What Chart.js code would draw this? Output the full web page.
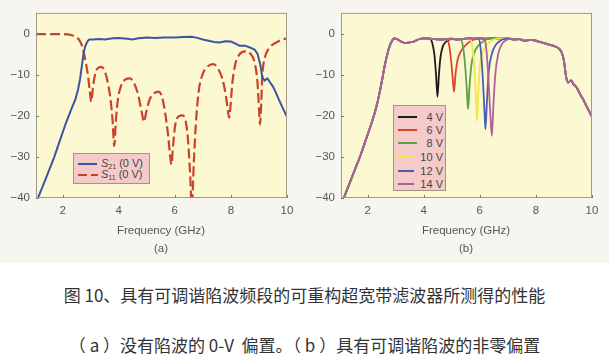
<!DOCTYPE html>
<html><head><meta charset="utf-8">
<script src="https://cdn.jsdelivr.net/npm/chart.js@4/dist/chart.umd.min.js"></script>
<style>
html,body{margin:0;padding:0;background:#fff;width:609px;height:358px;overflow:hidden;}
#fig{position:absolute;left:0;top:0;width:609px;height:263px;background:#f7f5ef;}
canvas{position:absolute;top:0;}
#ca{left:0;}
#cb{left:300px;}
.xt{position:absolute;font:11.5px "Liberation Sans",Arial,sans-serif;color:#555;text-align:center;width:200px;line-height:14px;}
.leg{position:absolute;background:#f5cbc9;border:1px solid #a39488;box-sizing:border-box;}
.row{position:absolute;font:11px "Liberation Sans",Arial,sans-serif;color:#444;line-height:12px;white-space:nowrap;}
.row sub{font-size:7px;vertical-align:-2px;}
.cap{position:absolute;left:0;width:609px;text-align:center;font:17px "Noto Sans CJK SC",sans-serif;color:#333;line-height:20px;}
svg{position:absolute;overflow:visible;}
</style>
</head><body>
<div id="fig"></div>
<canvas id="ca" width="300" height="263"></canvas>
<canvas id="cb" width="309" height="263"></canvas>

<div class="xt" style="left:61px;top:223px;">Frequency (GHz)</div>
<div class="xt" style="left:61px;top:241px;">(a)</div>
<div class="xt" style="left:366px;top:223px;">Frequency (GHz)</div>
<div class="xt" style="left:366px;top:241px;">(b)</div>

<div class="leg" style="left:73px;top:153px;width:77px;height:31px;"></div>
<svg style="left:0;top:0;width:1px;height:1px;">
  <line x1="78" y1="164" x2="97" y2="164" stroke="#3b55a2" stroke-width="2"/>
  <line x1="78" y1="175" x2="98" y2="175" stroke="#c9432c" stroke-width="2" stroke-dasharray="9 4"/>
</svg>
<div class="row" style="left:101px;top:157px;"><i>S</i><sub>21</sub> (0 V)</div>
<div class="row" style="left:101px;top:168px;"><i>S</i><sub>11</sub> (0 V)</div>

<div class="leg" style="left:393px;top:105px;width:53px;height:86px;"></div>
<svg id="legb" style="left:0;top:0;width:1px;height:1px;"></svg>
<div id="legbt"></div>

<div class="cap" style="top:285px;">图 10、具有可调谐陷波频段的可重构超宽带滤波器所测得的性能</div>
<div class="cap" style="top:335px;">（ a ）没有陷波的 0-V&nbsp; 偏置。（ b ）具有可调谐陷波的非零偏置</div>

<script>
// ---- shared axis data ----
const X_TICKS = [2, 4, 6, 8, 10];
const Y_TICKS = [-40, -30, -20, -10, 0];

// ---- panel (a) ----
const S21_FREQ = [1.12,1.3,1.5,1.7,1.9,2.1,2.3,2.45,2.55,2.62,2.68,2.74,2.8,2.88,2.95,3.1,3.3,3.5,3.8,4.0,4.3,4.5,4.7,5.0,5.3,5.6,6.0,6.3,6.6,6.8,7.0,7.2,7.4,7.6,7.8,8.0,8.2,8.3,8.5,8.7,8.85,8.95,9.05,9.12,9.2,9.3,9.4,9.5,9.6,9.7,9.8,9.9,10];
const S21_DB   = [-40,-37,-33.5,-30,-26,-22,-18.5,-16,-13.5,-11,-8,-5,-3,-1.8,-1.3,-1.3,-1.2,-1.3,-1.0,-0.9,-1.1,-1.3,-1.0,-0.8,-0.9,-0.8,-0.8,-0.7,-0.6,-0.9,-1.3,-1.6,-1.9,-2.0,-1.7,-1.8,-2.4,-2.8,-2.8,-3.3,-3.8,-4.8,-7.5,-10.5,-11.3,-10.8,-11.8,-12.8,-14.2,-15.8,-17.3,-18.8,-20.2];

const S11_FREQ = [1.05,1.5,2.0,2.3,2.5,2.6,2.7,2.8,2.9,2.97,3.02,3.08,3.15,3.25,3.38,3.5,3.6,3.7,3.78,3.84,3.9,3.98,4.1,4.25,4.4,4.55,4.7,4.82,4.9,4.98,5.1,5.25,5.42,5.55,5.65,5.75,5.83,5.88,5.94,6.02,6.15,6.27,6.38,6.46,6.52,6.57,6.6,6.64,6.68,6.75,6.85,6.98,7.15,7.37,7.55,7.7,7.82,7.9,7.94,7.98,8.05,8.15,8.3,8.5,8.7,8.85,8.95,9.0,9.04,9.08,9.12,9.2,9.35,9.5,9.7,9.85,10];
const S11_DB   = [0,0,0,-0.2,-0.8,-1.5,-3,-6,-10,-14,-16.5,-13,-10,-8.3,-8.0,-9,-11.5,-15.5,-21,-27.3,-21,-15.5,-12.3,-11,-10.8,-12,-15,-19,-21.4,-19,-16,-14.5,-14,-15.5,-19,-24,-29.5,-31.8,-27,-22,-20,-19.8,-21,-25,-31,-38,-45,-38,-31,-22,-14,-10,-8,-7.3,-8.5,-11,-15,-19,-20.4,-18,-12,-7.5,-5,-4.2,-4.8,-7,-12,-18,-22,-17,-10,-6,-3.5,-2.5,-1.7,-1.3,-1.0];

// ---- panel (b) ----
const BASE_FREQ = [1.15,1.35,1.55,1.75,1.95,2.15,2.3,2.42,2.52,2.6,2.68,2.78,2.88,2.95,3.05,3.2,3.35,3.5,3.65,3.8,4.0,4.2,4.4,4.6,4.8,5.0,5.2,5.4,5.6,5.8,6.0,6.2,6.4,6.6,6.8,7.0,7.2,7.4,7.6,7.8,8.0,8.2,8.4,8.6,8.8,8.92,9.0,9.08,9.15,9.25,9.35,9.45,9.55,9.65,9.75,9.85,9.95,10];
const BASE_DB   = [-40,-36.5,-33,-29.5,-25.5,-21.5,-18,-14.5,-11,-8,-5.5,-3,-1.5,-1.0,-1.2,-1.8,-2.2,-2.0,-1.8,-1.3,-1.0,-1.1,-1.2,-1.3,-1.2,-1.1,-1.3,-1.2,-1.0,-1.1,-1.0,-1.1,-1.0,-1.0,-1.0,-1.0,-1.3,-1.2,-1.6,-1.4,-1.6,-2.0,-2.4,-2.8,-3.4,-4.5,-6.5,-10.5,-11.8,-11.3,-12.3,-13.0,-14.3,-15.5,-16.8,-18.2,-19.5,-20.2];

const VOLTAGES = ['4 V','6 V','8 V','10 V','12 V','14 V'];
const NOTCH_4V_FREQ  = [4.2,4.3,4.38,4.44,4.49,4.54,4.6,4.68,4.8,5.0];
const NOTCH_4V_DB    = [-1.0,-2,-5,-10,-15.3,-10,-5.5,-3,-1.8,-1.2];
const NOTCH_6V_FREQ  = [4.8,4.9,4.97,5.03,5.08,5.13,5.2,5.3,5.45,5.65,5.9];
const NOTCH_6V_DB    = [-1.2,-2.5,-6,-10.5,-14.1,-10,-6.5,-4.5,-3,-1.8,-1.1];
const NOTCH_8V_FREQ  = [5.3,5.4,5.48,5.54,5.58,5.63,5.7,5.8,5.95,6.15,6.4];
const NOTCH_8V_DB    = [-1.2,-3,-8,-14,-18.3,-13,-7.5,-4.5,-2.8,-1.6,-1.0];
const NOTCH_10V_FREQ = [5.65,5.75,5.82,5.87,5.9,5.94,6.0,6.1,6.25,6.5,6.7];
const NOTCH_10V_DB   = [-1.1,-4,-10,-17,-21.2,-15,-8,-4.5,-2.5,-1.3,-1.0];
const NOTCH_12V_FREQ = [5.95,6.03,6.1,6.16,6.2,6.25,6.32,6.42,6.55,6.75,7.0];
const NOTCH_12V_DB   = [-1.1,-3.5,-10,-18,-23.2,-17,-9,-5,-2.8,-1.5,-1.0];
const NOTCH_14V_FREQ = [6.15,6.23,6.3,6.37,6.43,6.48,6.55,6.65,6.78,6.95,7.15];
const NOTCH_14V_DB   = [-1.1,-3.5,-10,-19,-24.8,-18,-10,-5,-2.5,-1.4,-1.1];

const COLORS_B = ['#1c1c1c','#e0432c','#5f9f45','#f2e64a','#4c5db6','#ad6199'];
const COLOR_S21 = '#3b55a2', COLOR_S11 = '#c9432c';

function pts(fx, dy){ return fx.map((f,i)=>({x:f,y:dy[i]})); }
function withNotch(nf, nd){
  const lo = nf[0], hi = nf[nf.length-1];
  const p = [];
  BASE_FREQ.forEach((f,i)=>{ if(f<lo||f>hi) p.push({x:f,y:BASE_DB[i]}); });
  nf.forEach((f,i)=>p.push({x:f,y:nd[i]}));
  p.sort((a,b)=>a.x-b.x);
  return p;
}

const framePlugin = {
  id:'frame',
  beforeDatasetsDraw(chart){
    const {ctx, chartArea:a} = chart;
    ctx.save();
    ctx.fillStyle = '#fcf8d2';
    ctx.fillRect(a.left, a.top, a.right-a.left, a.bottom-a.top);
    ctx.restore();
  },
  afterDatasetsDraw(chart){
    const {ctx, chartArea:a, scales} = chart;
    ctx.save();
    ctx.strokeStyle = '#a09a88';
    ctx.lineWidth = 1;
    ctx.strokeRect(a.left+0.5, a.top+0.5, a.right-a.left-1, a.bottom-a.top-1);
    ctx.strokeStyle = '#777';
    X_TICKS.forEach(v=>{ const x=Math.round(scales.x.getPixelForValue(v))+0.5; ctx.beginPath(); ctx.moveTo(x,a.bottom); ctx.lineTo(x,a.bottom-3); ctx.stroke(); });
    Y_TICKS.forEach(v=>{ const y=Math.round(scales.y.getPixelForValue(v))+0.5; ctx.beginPath(); ctx.moveTo(a.left,y); ctx.lineTo(a.left+3,y); ctx.stroke(); });
    ctx.restore();
  }
};

function makeOptions(yWidth, rightPad){
  return {
    responsive:false, animation:false, devicePixelRatio:1,
    layout:{padding:{left:0, top:7, right:rightPad, bottom:0}},
    plugins:{legend:{display:false}, tooltip:{enabled:false}},
    elements:{point:{radius:0}},
    scales:{
      x:{type:'linear', min:1.05, max:10,
         grid:{display:false, drawTicks:false}, border:{display:false},
         afterBuildTicks:s=>{ s.ticks = X_TICKS.map(v=>({value:v})); },
         afterFit:s=>{ s.height = 65; },
         ticks:{padding:6, color:'#555', font:{family:'Liberation Sans', size:11.5}}},
      y:{type:'linear', min:-40, max:5.2,
         grid:{display:false, drawTicks:false}, border:{display:false},
         afterBuildTicks:s=>{ s.ticks = Y_TICKS.map(v=>({value:v})); },
         afterFit:s=>{ s.width = yWidth; },
         ticks:{padding:6, color:'#555', font:{family:'Liberation Sans', size:11.5},
                callback:v=> v<0 ? '\u2212'+Math.abs(v) : String(v)}}
    }
  };
}

new Chart(document.getElementById('ca'), {
  type:'line',
  data:{datasets:[
    {label:'S21 (0 V)', data:pts(S21_FREQ,S21_DB), borderColor:COLOR_S21, borderWidth:2, tension:0},
    {label:'S11 (0 V)', data:pts(S11_FREQ,S11_DB), borderColor:COLOR_S11, borderWidth:2.2, borderDash:[10,4], cubicInterpolationMode:'monotone'}
  ]},
  options:makeOptions(36, 13),
  plugins:[framePlugin]
});

const NOTCHES = [
  [NOTCH_4V_FREQ,NOTCH_4V_DB],[NOTCH_6V_FREQ,NOTCH_6V_DB],[NOTCH_8V_FREQ,NOTCH_8V_DB],
  [NOTCH_10V_FREQ,NOTCH_10V_DB],[NOTCH_12V_FREQ,NOTCH_12V_DB],[NOTCH_14V_FREQ,NOTCH_14V_DB]
];
new Chart(document.getElementById('cb'), {
  type:'line',
  data:{datasets: VOLTAGES.map((v,i)=>({
    label:v, data:withNotch(NOTCHES[i][0], NOTCHES[i][1]),
    borderColor:COLORS_B[i], borderWidth:1.8, cubicInterpolationMode:'monotone',
    order: VOLTAGES.length-1-i
  }))},
  options:makeOptions(41, 17),
  plugins:[framePlugin]
});

// legend (b)
const legSvg = document.getElementById('legb');
const legT = document.getElementById('legbt');
const ROW_Y = [117,130,143,157,171,184];
VOLTAGES.forEach((v,i)=>{
  const short = v.length===3;
  const ln = document.createElementNS('http://www.w3.org/2000/svg','line');
  ln.setAttribute('x1',398); ln.setAttribute('x2', short?417:414);
  ln.setAttribute('y1',ROW_Y[i]); ln.setAttribute('y2',ROW_Y[i]);
  ln.setAttribute('stroke',COLORS_B[i]); ln.setAttribute('stroke-width',2);
  legSvg.appendChild(ln);
  const d = document.createElement('div');
  d.className='row';
  d.style.right = (609-443)+'px';
  d.style.top = (ROW_Y[i]-6)+'px';
  d.textContent = v;
  legT.appendChild(d);
});
</script>
</body></html>
